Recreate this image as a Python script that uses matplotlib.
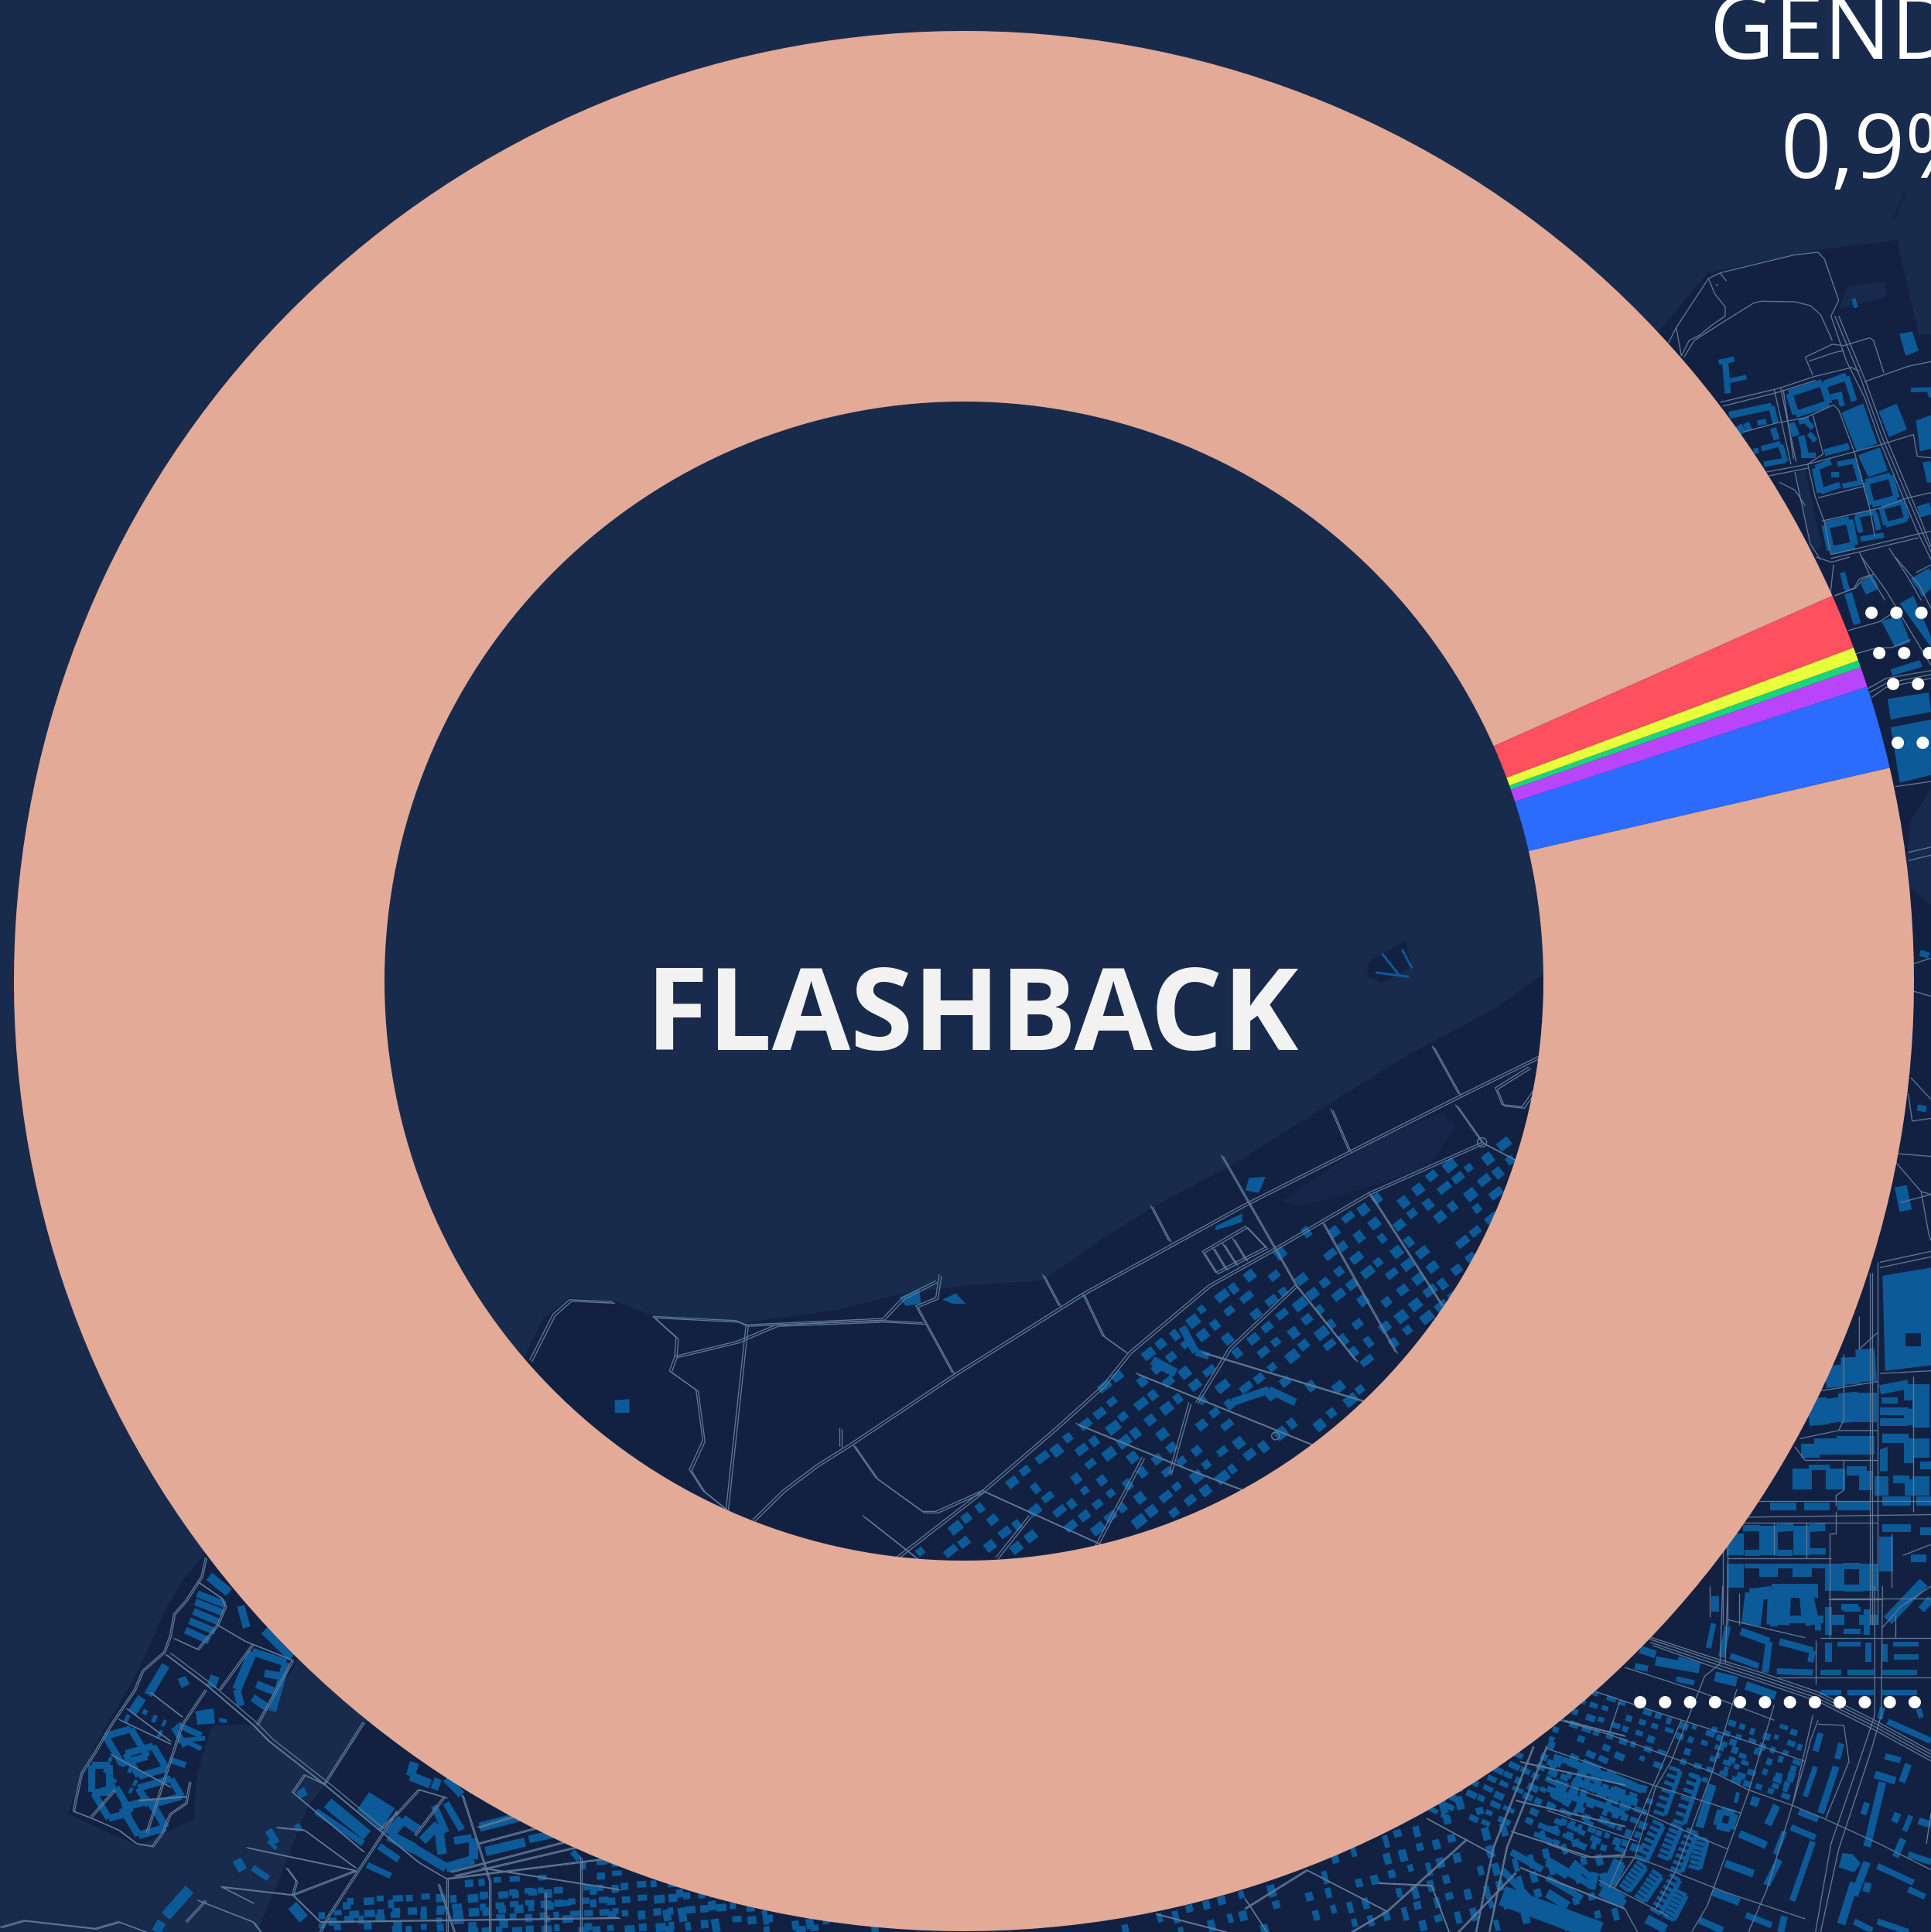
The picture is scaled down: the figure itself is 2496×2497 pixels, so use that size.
import math
import numpy as np
import matplotlib
matplotlib.use("Agg")
import matplotlib.pyplot as plt
from matplotlib.collections import LineCollection, PolyCollection
from matplotlib.path import Path
from matplotlib.patches import Polygon, Circle

W, H = 2496, 2497
BG = "#182B4D"; LAND = "#122142"; BLD = "#0D5A98"; ST = "#5F7896"; ROSE = "#E2AA97"

# ---- chart data (share of mentions, %) ----
categories = ["Blue", "Purple", "Green", "Yellow", "Red", "Flashback"]
shares = [1.41, 0.347, 0.12, 0.228, 0.94, 96.955]
colors = ["#2B6CFF", "#B845FA", "#1AD57E", "#E8FF3C", "#FF5060", ROSE]
center_label = "FLASHBACK"
callout_title = "GENDER"
callout_value = "0,9%"

fig = plt.figure(figsize=(W / 100, H / 100), dpi=100, facecolor=BG)
m = fig.add_axes([0, 0, 1, 1]); m.set_xlim(0, W); m.set_ylim(H, 0); m.axis("off")

polys, lines, holes = [], [], []

def frame(x0, y0, sx, sy):
    return lambda x, y: (x0 + x / sx, y0 + y / sy)

def bar(f, x1, y1, x2, y2, t):
    a = np.array(f(x1, y1), float); b = np.array(f(x2, y2), float)
    d = b - a; n = np.array([-d[1], d[0]]) / (np.hypot(*d) + 1e-9) * t / 2
    polys.append([a + n, b + n, b - n, a - n])

def bars(f, items, t=None):
    for it in items:
        if t is None: bar(f, *it)
        else: bar(f, *it[:4], t)

def poly(f, pts):
    polys.append([f(pts[i], pts[i + 1]) for i in range(0, len(pts), 2)])

def road(f, items, off=None):
    for it in items:
        pts = [f(it[i], it[i + 1]) for i in range(0, len(it), 2)]
        lines.append(pts)
        if off:
            lines.append([(x + off[0], y + off[1]) for x, y in pts])

def ring(f, cx, cy, w, h, t, ang):
    a = math.radians(ang); c, s = math.cos(a), math.sin(a)
    cor = [(-w/2, -h/2), (w/2, -h/2), (w/2, h/2), (-w/2, h/2)]
    pts = [(cx + x*c - y*s, cy + x*s + y*c) for x, y in cor]
    for i in range(4):
        bar(f, *pts[i], *pts[(i + 1) % 4], t)

def ladder(f, x1, y1, x2, y2, w, n):
    a = np.array(f(x1, y1)); b = np.array(f(x2, y2))
    d = b - a; L = np.hypot(*d); u = d / L; v = np.array([-u[1], u[0]]) * w
    I = lambda x, y: (x, y)
    bar(I, *(a - v/2), *(b - v/2), 6)
    for k in range(n):
        p = a + d * k / (n - 1)
        bar(I, *(p - v/2), *(p + v/2), 5)

def field(region, ang, dx, dy, w, h):
    path = Path(region)
    xs = [p[0] for p in region]; ys = [p[1] for p in region]
    cx, cy = (min(xs) + max(xs)) / 2, (min(ys) + max(ys)) / 2
    R = int(max(max(xs) - min(xs), max(ys) - min(ys)) / min(dx, dy)) + 2
    a = math.radians(ang); c, s = math.cos(a), math.sin(a)
    for i in range(-R, R):
        for j in range(-R, R):
            h1 = math.sin(i * 12.9898 + j * 78.233) * 43758.5453
            h1 -= math.floor(h1)
            h2 = math.sin(i * 39.346 + j * 11.135) * 24634.6345
            h2 -= math.floor(h2)
            if h1 < 0.22:
                continue
            gx = i * dx + (h2 - .5) * dx * .35
            gy = j * dy + (h1 - .5) * dy * .35
            px = cx + gx * c - gy * s; py = cy + gx * s + gy * c
            if not path.contains_point((px, py)):
                continue
            ww = w * (.7 + .7 * h2); hh = h * (.7 + .6 * h1)
            cor = [(-ww/2, -hh/2), (ww/2, -hh/2), (ww/2, hh/2), (-ww/2, hh/2)]
            polys.append([(px + x*c - y*s, py + x*s + y*c) for x, y in cor])

# ---- backdrop: land ----
land = [(2207,353),(2350,323),(2452,310),(2480,432),(2496,432),(2496,2497),(332,2497),(357,2438),(398,2334),
        (418,2309),(474,2225),(600,1950),(676,1758),(702,1704),(736,1677),(796,1682),(839,1699),(960,1710),
        (1080,1693),(1167,1672),(1253,1661),(1347,1655),(1425,1601),(1494,1558),(1597,1503),(1700,1438),
        (1812,1368),(1933,1303),(1993,1260),(2050,1100),(2000,600)]
lobe = [(265,2009),(240,2037),(214,2079),(179,2159),(122,2257),(87,2344),(179,2386),(250,2351),(255,2292),
        (275,2230),(326,2229),(378,2160),(420,2050),(400,1950)]
m.add_patch(Polygon(land, fc=LAND, ec="none", zorder=1))
m.add_patch(Polygon(lobe, fc=LAND, ec="none", zorder=1))
z7 = frame(650, 1200, 1.1615, 1.845)
m.add_patch(Polygon([z7(1170,650),z7(1300,510),z7(1410,440),z7(1430,470),z7(1390,570),z7(1230,650),z7(1190,660)], fc="#15264A", ec="none", zorder=1.1))
m.add_patch(Polygon([z7(1300,80),z7(1355,28),z7(1365,90),z7(1320,130),z7(1298,115)], fc=LAND, ec="none", zorder=1.1))
z5 = frame(2000, 280, 3, 3)
m.add_patch(Polygon([z5(1165,270),z5(1310,252),z5(1315,310),z5(1130,360)], fc="#172A4D", ec="none", zorder=1.1))
m.add_patch(Polygon([z5(960,1000),z5(1000,980),z5(1065,1280),z5(1030,1300)], fc="#172A4D", ec="none", zorder=1.1))
m.add_patch(Polygon([(2470,1060),(2496,1020),(2496,1170),(2460,1140)], fc="#172A4D", ec="none", zorder=1.1))

# ---- backdrop: upper right ----
bars(z5, [(690,560,700,685,8),(665,565,725,552,7),(690,640,772,622,6),(705,770,870,735,9),(870,735,885,800,8),
 (740,810,760,840,10),(770,800,785,830,8),(815,800,850,795,7),(875,820,890,865,8),(800,910,820,905,7),(830,900,905,880,7),
 (905,885,925,950,7),(840,960,925,945,7),(1075,650,1160,620,10),(1160,620,1190,715,8),(1100,700,1145,690,8),(1130,690,1145,735,7),
 (945,800,965,850,10),(975,795,1015,785,8),(1000,790,1030,820,7),(1015,840,1040,870,7),(985,850,1000,920,9),(985,925,1040,925,7),
 (1075,915,1170,890,9),(1040,975,1100,950,8),(1040,975,1060,1070,10),(1060,1065,1135,1040,8),(1100,1000,1130,1000,7),
 (1125,960,1200,945,7),(1190,945,1215,1030,7),(1145,1045,1220,1030,7),(1200,1160,1215,1225,7),(1270,1150,1285,1215,7),
 (1195,1160,1275,1145,6),(1215,1250,1305,1235,7),(1145,1380,1160,1445,7),(1420,1420,1488,1380,13),(1440,1145,1488,1130,15),
 (1410,672,1488,670,6),(1480,680,1488,700,5),(1470,950,1488,1030,10)])
ring(z5, 1015, 705, 135, 85, 9, -18); ring(z5, 1295, 1060, 100, 90, 8, -15)
ring(z5, 1345, 1150, 85, 70, 7, -15); ring(z5, 1135, 1235, 95, 100, 10, -12)
for p in [(1140,760,1225,725,1280,880,1200,910),(1285,755,1355,725,1395,825,1325,855),(1205,925,1290,895,1320,985,1245,1010),
          (1365,455,1415,445,1440,520,1390,540),(1180,320,1195,315,1205,350,1190,355),(1430,790,1488,770,1488,900,1445,910),
          (1215,1420,1255,1395,1280,1445,1235,1465),(655,262,662,262,662,270,655,270)]:
    poly(z5, p)
road(z5, [(470,490,500,430,625,240,670,218,960,148,1050,138,1075,165,1125,310,1130,325,1100,385,1160,560,1230,700,1290,870,1430,1210,1488,1330),
 (1115,385,1220,640,1300,860,1440,1190,1488,1300),(1130,385,1235,640,1315,860,1450,1180,1488,1280),
 (625,240,650,300,690,350,690,385,640,420,590,460,550,480,520,540),(530,545,570,480,680,410,800,335,830,328,960,330,1020,345,1060,380,1105,480),
 (500,430,520,540),(670,218,695,250),
 (670,720,880,670,915,660,1035,620,1180,585,1210,600),(680,735,880,685,915,675,1040,635),(1000,545,1105,495,1150,500,1250,470,1265,480,1305,605),
 (1000,545,1030,615),(1015,560,1120,525,1150,520),(1230,640,1400,580,1488,562),(880,670,945,960),(905,665,965,950),(915,670,955,940),
 (1000,780,1110,730,1130,750,1190,910,1250,1130,1270,1240),(1030,770,1070,920,1010,960),(760,835,890,800,1000,780),
 (850,990,1010,960,1290,885,1420,845,1435,930,1488,935),(860,1005,1010,975),(1010,960,1040,1090,1075,1185,1100,1310),(1050,1090,1230,1045),
 (1065,1180,1290,1130,1400,1090,1488,1070),(1100,1310,1210,1285,1440,1230,1488,1220),(1100,1325,1210,1300,1440,1245),
 (960,990,1020,1270,1060,1330),(1210,1300,1250,1390,1310,1488),(1325,1285,1400,1400,1450,1488),(1110,1350,1095,1488),
 (1115,1470,1190,1440,1210,1405,1250,1390),(1430,1380,1488,1350),(900,1030,960,1060,1000,1120)])

z1 = frame(1880, 720, 2.545, 3)
bars(z1, [(1275,60,1295,130,6),(1295,140,1325,260,10)])
for p in [(1335,100,1375,70,1395,115,1355,145),(1405,250,1465,225,1500,330,1450,350),(1465,180,1510,150,1568,310,1568,350),
          (1510,90,1568,50,1568,120,1540,155),(1435,435,1530,400,1540,425,1440,460),(1425,550,1560,525,1568,600,1435,630),(1435,660,1568,630,1568,845,1465,875)]:
    poly(z1, p)
road(z1, [(1250,150,1320,120,1340,90,1380,65),(1295,285,1400,250,1450,210),(1320,375,1380,355,1440,350,1500,320),
 (1360,510,1420,470,1568,440),(1365,525,1420,490,1568,455),(1372,545,1420,505,1568,470),(1340,0,1420,130,1568,420),(1450,0,1530,110,1568,200),(1450,890,1568,870),
 (1190,0,1240,20,1300,0)])

# ---- backdrop: right side ----
z6 = frame(2200, 1000, 3, 1.4255)
poly(z6, (700,925,888,910,888,1090,710,1100))
holes.append([z6(790,1030), z6(850,1030), z6(850,1055), z6(790,1055)])
bars(z6, [(575,1075,580,1125,25),(632,1060,640,1120,25),(510,1090,520,1130,25),(565,1140,575,1195,25),(635,1140,635,1195,28),(510,1150,522,1195,22),(445,1150,455,1200,25),
 (420,1235,420,1260,25),(480,1225,480,1255,30),(560,1220,560,1255,25),(632,1220,632,1255,25),(388,1280,388,1318,25),(415,1278,495,1278,7),(518,1280,518,1318,25),
 (560,1285,640,1285,12),(635,1285,635,1320,18),(265,1350,365,1350,10),(395,1350,495,1350,10),(525,1348,650,1348,12),(160,1390,225,1390,8),(258,1385,258,1440,25),
 (290,1390,355,1388,10),(388,1385,388,1440,22),(415,1390,478,1388,10),(165,1435,225,1435,8),(290,1435,350,1435,8),(420,1432,480,1432,8),(130,1400,130,1440,22),
 (130,1455,130,1500,22),(258,1455,258,1480,25),(388,1455,388,1480,25),(165,1460,225,1460,6),(295,1460,355,1460,6),(420,1460,480,1460,6),(515,1455,515,1505,25),
 (645,1455,645,1505,25),(545,1460,615,1460,8),(545,1500,615,1500,8),(690,1135,800,1125,12),(800,1125,800,1155,12),(695,1155,760,1155,8),(690,1175,800,1175,10),
 (690,1195,800,1195,10),(800,1170,800,1200,12),(850,1125,850,1205,22),(700,1225,800,1225,12),(800,1225,800,1270,12),(695,1295,695,1330,18),(740,1300,805,1300,10),
 (800,1300,800,1330,10),(850,1225,850,1260,22),(845,1275,888,1275,10),(850,1295,850,1330,22),(700,1340,810,1340,12),(830,1340,888,1340,12),(700,1390,810,1390,10),
 (845,1395,888,1395,10),(715,1405,715,1470,18),(810,1445,870,1445,10),(720,1560,860,1490,14),(850,1540,888,1520,10),(185,1510,270,1505,12),(270,1505,450,1505,18),
 (400,1505,430,1568,18),(300,1510,295,1568,30),(205,1510,190,1568,25),(540,1535,605,1535,8),(515,1550,515,1568,25),(645,1550,645,1568,25),(845,330,880,335,8),
 (835,615,870,618,8),(770,760,790,805,16)])
for p in [(690,1245,720,1240,720,1285,690,1285)]:
    poly(z6, p)
road(z6, [(800,145,888,135),(800,160,888,150),(820,350,888,340),(815,400,888,410),(810,560,888,600),(800,590,815,640,888,635),(760,700,888,705),(750,715,850,770,888,775),
 (770,790,888,775),(850,770,880,850,888,860),(690,900,888,880),(690,910,888,890),(660,920,660,1568),(650,920,650,1568),(680,900,680,1568),(550,1070,550,1190,530,1210),
 (420,1140,680,1120),(820,1110,820,1360),(690,1105,888,1100),(380,1225,530,1210,680,1210),(550,1265,680,1265),(360,1240,400,1265,550,1265),(550,1265,550,1320,520,1330,520,1350),
 (200,1340,888,1340),(140,1370,888,1365),(140,1380,680,1380),(280,1380,280,1440),(405,1380,405,1445),(100,1445,500,1445),(495,1400,495,1568),(520,1360,520,1400,495,1400),
 (500,1520,888,1520),(145,1510,145,1568),(80,1400,80,1568),(100,1400,100,1568),(610,1000,610,1060,680,1030),(780,1440,888,1420),(735,1400,735,1500)])

# ---- backdrop: lower right ----
z4 = frame(2000, 2050, 3, 3)
field([z4(0,480),z4(200,400),z4(1000,680),z4(950,840),z4(780,800),z4(400,700),z4(0,600)], 19, 17, 15, 9, 7)
field([z4(0,600),z4(420,780),z4(360,1040),z4(0,1000)], 19, 12, 15, 8, 8)
field([z4(640,500),z4(1000,560),z4(940,820),z4(640,740)], 19, 16, 15, 8, 7)
bars(z4, [(650,40,650,100,10),(790,50,790,130,10),(800,40,870,40,8),(880,30,880,155,10),(990,0,1000,120,10),(880,130,1070,130,10),(1050,130,1050,170,8),(1090,80,1090,190,9),
 (1150,90,1215,90,7),(1150,175,1215,175,7),(1240,90,1240,190,8),(1150,10,1230,10,7),(750,175,860,215,10),(860,215,845,335,9),(710,270,820,310,8),(900,215,1030,250,9),
 (1030,250,1020,295,8),(1090,220,1090,295,9),(1125,225,1215,225,7),(1245,220,1245,295,8),(1340,225,1440,225,7),(1345,275,1440,275,7),(1310,225,1310,295,7),
 (890,330,1030,335,8),(1060,335,1140,335,7),(1165,335,1265,335,7),(1300,335,1435,335,7),(1060,412,1140,412,7),(1165,412,1265,412,7),(1300,412,1435,412,7),
 (650,350,735,370,13),(770,385,885,425,11),(645,145,625,240,7),(700,155,675,275,8),(360,245,420,265,10),(420,290,590,320,12),(505,290,590,315,12),(340,310,390,320,8),(500,360,570,375,7),
 (1320,525,1488,600,8),(1060,570,1040,640,8),(1140,610,1125,670,8),(1040,700,1000,815,7),(1120,700,1060,880,9),(975,875,1050,905,8),(1310,660,1370,675,8),(1270,730,1350,755,10),
 (1300,760,1240,1010,10),(1400,690,1375,760,9),(1240,840,1225,885,8),(1360,880,1345,915,9),(1410,890,1385,950,7),(1440,910,1488,925,9),(1380,980,1350,1050,9),(1400,1040,1488,1070,8),
 (640,770,590,935,11),(745,960,850,1005,10),(890,850,855,925,10),(920,950,885,1040,7),(945,935,1040,975,8),(1030,990,950,1220,8),(900,1060,850,1160,9),
 (690,1075,800,1115,10),(640,1185,745,1225,10),(590,1295,680,1335,9),(770,1275,870,1315,8),(1240,1070,1190,1200,10),(1190,1150,1140,1310,11),(1280,1085,1420,1150,8),
 (1400,1175,1465,1205,8),(1245,1150,1235,1185,9),(205,1185,300,1235,12),(100,1080,130,1150,11),(185,1110,170,1175,11),(0,1070,80,1120,12),(385,1290,460,1330,12),
 (920,1280,905,1341,9),(1190,1300,1260,1335,8),(1280,1300,1400,1341,8),(80,680,370,790,10),(100,755,350,840,10),(0,785,130,830,8),(130,820,300,880,8),(0,680,40,695,8),
 (790,830,820,840,12),(740,800,730,840,5),(1300,470,1290,515,7),(1440,475,1450,510,7),(0,1190,80,1240,12),(60,1290,200,1341,14)])
ring(z4, 692, 905, 55, 60, 10, 15)
poly(z4, (1145,1035,1185,1040,1215,1075,1190,1110,1130,1090))
for L in [(495,710,435,880),(570,735,510,915),(430,920,365,1055),(500,930,450,1050),(560,950,500,1100),(365,1080,300,1170),(425,1115,360,1210),(495,1130,420,1260),(275,1070,240,1150),(600,980,570,1090),(520,1190,470,1285)]:
    ladder(z4, *L, 15, 7)
road(z4, [(390,195,620,270,830,335,1050,410,1270,520,1488,640),(395,205,620,280,830,347,1050,422,1270,532,1488,652),(400,218,620,292,830,360,1050,435,1270,545,1488,665),(410,230,620,305,830,372,1050,447,1270,558,1488,678),
 (300,315,580,405,880,520),(190,410,460,500,680,570,830,620,1000,680),(50,520,240,575,470,660,640,720,780,790,950,850,1070,900,1290,1000,1488,1100),(0,630,420,775,750,880),
 (0,745,380,880,580,970,700,1020),(0,870,350,990),(0,1000,140,1050,330,1050,420,1080,700,1190,1000,1290),(200,1140,470,1280),(0,1130,300,1250,350,1341),
 (630,0,630,120),(680,0,670,300,610,350,480,680,420,780,340,1050,260,1170),(700,0,690,300),(735,400,640,720,500,1100,420,1250),(880,460,780,800,620,1240,560,1341),(1030,500,950,850,850,1180,780,1341),
 (1270,0,1270,500,1230,620,1100,1000,1040,1341),(1300,0,1295,500,1255,640,1130,1020,1060,1341),(1090,50,1300,50),(1095,0,1095,200),(890,355,1488,355),(1040,210,1040,380),(1060,200,1488,200),(700,130,1000,200),
 (1300,160,1370,80,1488,0),(1350,200,1350,110),(1050,520,1020,600,1000,680,950,850),(1050,535,1150,540,1170,680,1080,900),(240,570,280,450),(520,520,240,1170),(1488,880,1470,1000)])

# ---- backdrop: hole ----
field([z7(1440,540),z7(1530,500),z7(1540,700),z7(1400,950),z7(1200,1230),z7(1000,1400),z7(800,1500),z7(590,1500),z7(720,1340),z7(860,1180),z7(940,1010),z7(1060,860),z7(1220,700)], -38, 24, 23, 13, 11)
for p in [(595,880,625,860,628,895,605,900),(168,1125,190,1122,190,1155,168,1155),(1120,595,1145,592,1135,630,1115,625),(660,885,680,870,695,895,675,895),(1070,710,1110,680,1110,700,1070,720)]:
    poly(z7, p)
bars(z7, [(1020,950,1040,1010,10),(1040,1010,1060,1020,9),(975,1030,1010,1060,12),(1095,1130,1150,1100,10),(1150,1100,1190,1130,10),(1320,60,1345,110,3),(1350,50,1365,95,3),(1310,105,1360,115,3)])
road(z7, [(1555,305,1440,395,1110,660,870,870,680,1060,520,1230,470,1280,420,1340,375,1410),(1470,510,1300,630,1150,770,1060,850,940,1010,900,1090,830,1190,720,1340,590,1500),
 (1395,280,1435,395),(1243,430,1270,530),(1078,540,1190,850,1280,1030),(972,660,1000,745),(810,825,835,900),(655,825,650,880,620,900,675,1060),(870,870,900,970,935,1010),
 (225,925,350,935,365,945,570,930,600,880,650,840),(225,925,260,975,258,1020,250,1055,290,1100,300,1220,280,1290,300,1340,335,1385),(365,945,335,1385),(258,1020,350,985,410,945,570,935,630,940),
 (75,920,100,885,165,890),(75,920,40,1030),(540,1400,620,1500),(525,1230,560,1310,630,1390,650,1390,720,1340),(505,1190,505,1235),(1300,630,1410,900),(1230,700,1340,1010),(1190,850,1090,1000,1040,1130),
 (950,1060,1230,1240),(1050,1010,1300,1130),(860,1180,1030,1290,1130,1350),(720,1340,900,1470),(790,1400,740,1500),(960,1260,880,1500),(1030,1130,1000,1300),(1430,420,1470,510,1530,560),
 (1540,330,1490,380,1500,420,1530,425,1550,380),(1050,770,1070,820,1145,760,1115,710,1050,770),(1065,760,1085,812),(1080,750,1100,800),(1095,738,1115,790)], off=(3, 2))
m.add_patch(Circle(z7(1470,510), 6, fc="none", ec=ST, lw=1, zorder=4))
m.add_patch(Circle(z7(1160,1210), 5, fc="none", ec=ST, lw=1, zorder=4))

# ---- backdrop: lower left ----
z3 = frame(0, 1950, 1.96, 2.867)
bars(z3, [(500,315,570,355),(495,345,565,385),(490,380,555,420),(480,415,545,455),(470,450,530,490)], t=9)
bars(z3, [(530,250,580,310,12),(610,360,625,440,10),(670,450,740,550,12),(640,530,600,670,12),(600,670,610,730,10),(640,530,725,570,10),(725,570,690,750,10),(670,610,710,620,10),
 (650,650,700,680,10),(640,700,680,740,10),(420,580,375,690,11),(360,700,335,755,12),(545,620,535,660,12),(830,1090,930,1210,15),(1050,940,1040,990,12),(1040,990,1090,1020,12),
 (1110,1000,1100,1040,10),(1170,1060,1130,1000,10),(985,1210,1020,1150,14),(1020,1150,1060,1190,12),(985,1210,1050,1260,14),(1070,1230,1110,1170,12),(1110,1170,1120,1280,12),
 (1050,1260,1130,1330,12),(1130,1330,1200,1300,12),(1200,1220,1200,1300,12),(1150,1230,1195,1220,10),(1100,1100,1130,1200,9),(1130,1090,1170,1190,9),(1215,1180,1320,1140,12),
 (1230,1270,1330,1235,12),(1340,1225,1420,1200,10),(440,810,470,880,8),(450,860,520,850,6),(450,800,510,840,8),(470,860,510,890,6),(430,930,470,950,8),
 (800,1120,920,1240,8),(960,1250,1010,1300,9),(930,1320,990,1360,8),(600,1300,615,1340,12),(640,1330,680,1370,8),(420,1510,480,1410,14),(395,1568,410,1530,12),
 (680,1190,700,1240,10),(750,1170,760,1190,8),(680,1230,700,1260,5),(740,1470,770,1520,14),(1450,1270,1468,1300,8)])
for p in [(495,750,540,740,545,795,500,800),(555,775,575,780,575,795,555,790),(935,1050,1000,1110,965,1190,905,1115),(450,630,470,620,480,650,460,665),(750,1050,770,1030,780,1060,760,1075)]:
    poly(z3, p)
for r_ in [(320,880,70,110,9,-22),(370,935,75,90,9,-22),(255,1000,45,100,9,0),(405,1050,90,70,9,-22),(285,1090,60,100,9,-22),(365,1145,75,110,10,-22)]:
    ring(z3, *r_)
field([z3(330,740),z3(460,760),z3(440,880),z3(300,780)], 25, 16, 14, 5, 8)
field([z3(280,920),z3(380,1000),z3(340,1070),z3(260,1000)], 25, 14, 12, 5, 7)
field([z3(810,1470),z3(1568,1290),z3(1568,1568),z3(810,1568)], -3, 19, 16, 10, 8)
road(z3, [(520,180,510,250,470,340,440,390,430,470,415,530,360,600,340,670,280,800,240,900,205,980,190,1080,185,1120,230,1145,300,1190,345,1240,385,1250,410,1200,430,1130,470,1090,480,1010),
 (420,540,520,650,640,800,680,860,820,1020,960,1190,1060,1310,1130,1370),(500,270,560,330,570,360,550,430,620,490,740,560),(550,430,500,520,440,480),(640,500,555,670),(740,560,650,800),
 (920,790,820,1020,770,985,740,1050,920,1270),(380,680,460,770),(520,670,460,800,370,1200),(320,740,430,860),(300,780,430,870),(280,910,430,1030),(350,1080,470,1065),(230,1140,290,1040),
 (1060,1040,1010,1120,960,1190),(1060,1040,1130,1070),(1125,1065,1050,1210),(1170,1060,1240,1380,1240,1568),(1130,1370,1130,1568),(1110,1390,1150,1568),(810,1530,1568,1515),
 (1130,1370,1568,1290),(1150,1360,1470,1250),(1140,1345,1440,1230),(1220,1330,1568,1410),(1210,1240,1440,1150),(1005,1120,830,1510,810,1568),(1210,1180,1300,1140),
 (0,1550,60,1525,240,1555,300,1530,370,1568),(625,1255,900,1340,740,1430,560,1400,640,1460),(700,1180,770,1190,900,1330),(500,1450,640,1530),(470,1530,520,1450),(640,1530,660,1568),
 (725,1330,750,1380,740,1430,810,1530),(1380,1568,1380,1420),(1470,1568,1470,1290)], off=(2, 1))
road(z3, [(420,540,520,650,640,800,680,860,820,1020,960,1190)], off=(6, -2))

# ---- backdrop: bottom band ----
z8 = frame(300, 2200, 0.871, 3)
field([z8(680,891),z8(380,560),z8(480,700),z8(100,780),z8(100,891)], -4, 20, 18, 10, 9)
field([z8(1000,891),z8(1250,580),z8(1400,350),z8(1568,610),z8(1568,891)], 75, 24, 22, 13, 8)
field([z8(1420,200),z8(1568,200),z8(1568,600),z8(1340,430)], 25, 17, 14, 12, 7)
field([z8(500,700),z8(820,891),z8(480,891)], 80, 22, 20, 14, 8)
bars(z8, [(1440,580,1475,650,9),(1480,610,1530,710,9),(1510,620,1530,680,8),(1430,650,1460,760,9),(1430,750,1540,891,26),(1480,680,1520,760,8),(1540,700,1568,760,7)])
road(z8, [(1465,170,1420,560,1400,891),(1480,170,1435,560,1415,891),(1345,450,1420,590),(1210,650,1300,810,1260,891),(1390,530,1300,810),(1290,700,1350,710,1370,891),(1500,70,1568,130),
 (1450,230,1568,320),(1445,380,1568,480),(1440,500,1530,600,1568,590),(1450,640,1568,800),(1040,820,1120,891),(1165,891,1140,760),(1210,650,1140,800),(1445,660,1380,891)], off=(1, 1))

# ---- draw backdrop ----
m.add_collection(PolyCollection(polys, facecolors=BLD, edgecolors="none", zorder=2))
m.add_collection(PolyCollection(holes, facecolors=LAND, edgecolors="none", zorder=2.1))
m.add_collection(LineCollection(lines, colors=ST, linewidths=0.95, zorder=3))
m.plot([2462, 2449], [250, 281], color="#142544", lw=3, solid_capstyle="round", zorder=3)

# ---- the donut ----
a = fig.add_axes([0, 0, 1, 1]); a.patch.set_alpha(0); a.axis("off")
a.pie(shares, colors=colors, startangle=12.97, counterclock=True, radius=1228, center=(1246, H - 1268),
      wedgeprops=dict(width=479, linewidth=0), frame=False)
a.set_xlim(0, W); a.set_ylim(0, H); a.set_aspect("auto")

# ---- dotted leaders and text ----
t = fig.add_axes([0, 0, 1, 1]); t.patch.set_alpha(0); t.axis("off"); t.set_xlim(0, W); t.set_ylim(H, 0)
for x0, y0 in [(2419, 792), (2429, 844), (2447, 884), (2453, 960), (2120, 2200)]:
    t.plot([x0, W + 40], [y0, y0], color="white", lw=11.5, ls=(0, (0.01, 2.01)), dash_capstyle="round")
t.text(2210, 76, callout_title, family="Open Sans", fontsize=115 * .72, color="white", va="baseline", ha="left")
t.text(2301, 230, callout_value, family="Open Sans", fontsize=115 * .72, color="white", va="baseline", ha="left")
t.text(1257, 1357, center_label, family="Open Sans", weight="bold", fontsize=147 * .72, color="#F2F2F2", va="baseline", ha="center")

fig.savefig("out.png", dpi=100, facecolor=BG)
